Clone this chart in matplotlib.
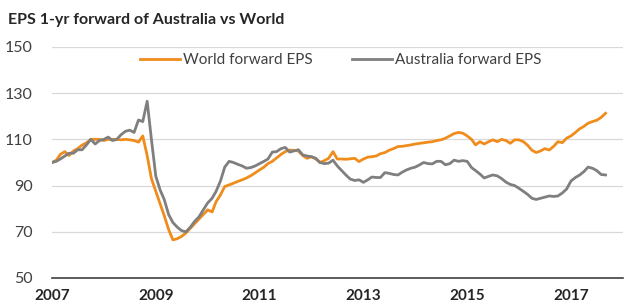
import pandas as pd
import matplotlib.pyplot as plt

# monthly values, Jan 2007 .. Sep 2017 (index 100 = Jan 2007)
world = [
    100, 101, 103.5, 104.7, 103, 105, 106, 107.5, 108.5, 110, 110, 110,
    109.5, 110, 110, 110, 109.8, 110, 109.8, 109.5, 108.8, 111.5, 103, 93,
    87.5, 82, 77, 71, 66.5, 67, 68, 69.5, 71.5, 73.5, 75.5, 77.5,
    79.5, 78.6, 83, 86, 89.6, 90.3, 91, 91.8, 92.5, 93.3, 94.3, 95.5,
    96.8, 98, 99.5, 100.5, 102, 103.5, 104.7, 105.4, 105.2, 105, 103, 101.8,
    102.5, 101.5, 100, 100.8, 101.8, 104.7, 101.5, 101.5, 101.4, 101.6, 101.8, 100.4,
    101.5, 102.3, 102.5, 102.8, 103.8, 104.3, 105.3, 106, 106.9, 107, 107.3, 107.6,
    108, 108.3, 108.5, 108.8, 109, 109.5, 109.8, 110.5, 111.5, 112.5, 113, 112.7,
    111.5, 110, 107.6, 109, 108, 109, 109.8, 109, 110, 109.5, 108.3, 109.8,
    109.8, 109, 107.5, 105.3, 104.3, 105, 106, 105.4, 107, 109, 108.6, 110.5,
    111.5, 113, 114.5, 115.6, 117, 117.7, 118.3, 119.5, 121.3,
]
australia = [
    100, 100.5, 101.5, 102.8, 104, 104, 105.5, 105.5, 107.6, 110, 108, 109.5,
    110, 111, 109.5, 110, 112, 113.5, 114, 113, 118.4, 117.7, 126.5, 110,
    94, 88, 84, 77.5, 74, 72, 70.5, 70, 72, 74.5, 76.5, 79.5,
    82.5, 84.5, 87.5, 92, 98, 100.5, 100, 99.2, 98.5, 97.5, 97.8, 98.5,
    99.5, 100.5, 101.5, 104.5, 104.7, 106, 106.5, 104.5, 105, 105.5, 103.3, 102.8,
    102.5, 101.8, 100, 99.5, 99.7, 101, 98.5, 96.5, 94.5, 92.8, 92.2, 92.5,
    91.4, 92.5, 93.7, 93.5, 93.5, 95.6, 95.3, 94.8, 94.6, 95.8, 96.8, 97.5,
    98, 99, 100, 99.5, 99.4, 100.5, 100.5, 99, 99.5, 101, 100.5, 100.8,
    100.5, 97.8, 96.5, 95, 93.3, 94, 94.6, 94.2, 93, 91.5, 90.5, 90,
    88.8, 87.5, 86.2, 84.5, 84, 84.5, 85, 85.5, 85.3, 85.5, 86.8, 88.5,
    92, 93.5, 94.5, 96, 98, 97.5, 96.5, 94.8, 94.6,
]
dates = pd.date_range("2007-01-01", periods=len(world), freq="MS")
years = [2007, 2009, 2011, 2013, 2015, 2017]

plt.rcParams['font.family'] = ['Lato', 'DejaVu Sans']

fig = plt.figure(figsize=(6.26, 3.07), dpi=100)
ax = fig.add_axes([0.083, 0.0945, 0.912, 0.7525])

ax.plot(dates, world, color='#f08c1c', lw=2.0, label='World forward EPS')
ax.plot(dates, australia, color='#7f7f7f', lw=2.0, label='Australia forward EPS')

ax.set_ylim(50, 150)
ax.set_yticks(range(50, 151, 20))
ax.set_xlim(pd.Timestamp("2007-01-01"), pd.Timestamp("2018-01-01"))
ax.set_xticks([pd.Timestamp(f"{y}-01-01") for y in years])
ax.set_xticklabels([str(y) for y in years], fontweight='bold')
ax.tick_params(axis='x', length=0, pad=8, labelsize=11, colors='#262626')
ax.tick_params(axis='y', length=0, pad=14, labelsize=11.5, colors='#404040')

ax.grid(axis='y', color='#d9d9d9', lw=0.9)
ax.set_axisbelow(True)
for s in ['top', 'right', 'left']:
    ax.spines[s].set_visible(False)
ax.spines['bottom'].set_color('#404040')
ax.spines['bottom'].set_linewidth(1.2)

ax.legend(loc='center', bbox_to_anchor=(0.506, 0.944), ncol=2, frameon=False,
          fontsize=11, handlelength=2.6, handletextpad=0.2, columnspacing=2.6,
          labelcolor='#404040')

fig.text(0.013, 0.935, 'EPS 1-yr forward of Australia vs World', fontsize=11.5,
         fontweight='bold', color='#262626', va='center', ha='left')

fig.savefig('out.png', dpi=100)
